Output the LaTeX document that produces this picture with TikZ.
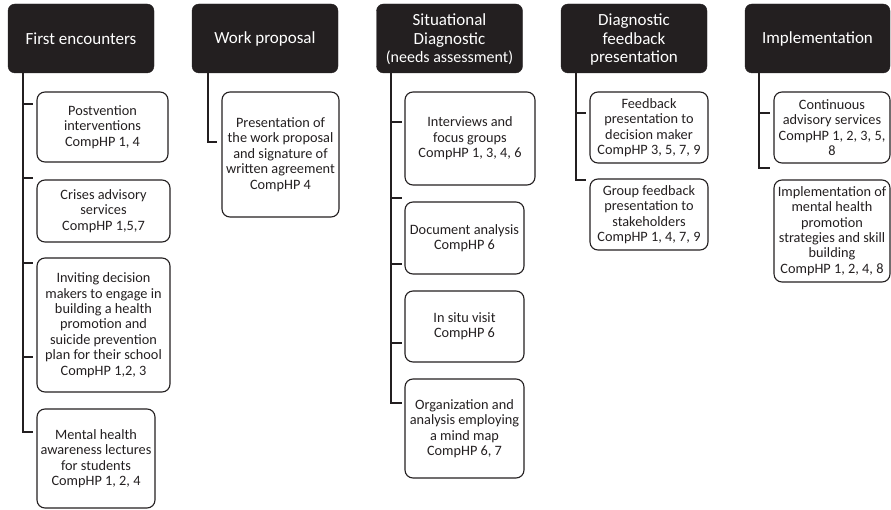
\documentclass[tikz,border=0pt]{standalone}
\usepackage{fontspec}
\setmainfont{Carlito}
\definecolor{ink}{HTML}{231F20}
\tikzset{
  x=1pt, y=-1pt,
  header/.style={fill=ink, draw=ink, rounded corners=7pt, text=white,
    minimum width=146pt, minimum height=69pt, inner sep=2pt, align=center,
    font=\fontsize{17}{18.5}\selectfont},
  tallhead/.style={header, text depth=2pt},
  leaf/.style={draw=ink, line width=1.1pt, rounded corners=8pt, text=ink,
    inner sep=2pt, align=center, font=\fontsize{14.3}{15.4}\selectfont},
  trunk/.style={draw=ink, line width=1.3pt},
}
\newcommand{\subline}[1]{{\fontsize{16}{18.5}\selectfont #1}}
\begin{document}
\begin{tikzpicture}
\useasboundingbox (0,0) rectangle (891,510);

% stage headers
\node[header] (h1) at (81,38.5) {First encounters};
\node[header] (h2) at (265,38.5) {Work proposal};
\node[header] (h3) at (449.5,38.5) {\rule{0pt}{14pt}Situational\\Diagnostic\\\subline{(needs assessment)}};
\node[header] (h4) at (634,38.5) {\rule{0pt}{14pt}Diagnostic\\feedback\\presentation};
\node[header, minimum width=145pt] (h5) at (817.5,38.5) {Implementation};

% first encounters
\node[leaf, minimum width=131pt, minimum height=70pt] (e1) at (102.5,127) {Postvention\\interventions\\CompHP 1, 4};
\node[leaf, minimum width=133pt, minimum height=62pt] (e2) at (103.5,211) {Crises advisory\\services\\CompHP 1,5,7};
\node[leaf, minimum width=133pt, minimum height=134pt] (e3) at (103.5,325) {Inviting decision\\makers to engage in\\building a health\\promotion and\\suicide prevention\\plan for their school\\CompHP 1,2, 3};
\node[leaf, minimum width=118pt, minimum height=99pt] (e4) at (96,458.5) {Mental health\\awareness lectures\\for students\\CompHP 1, 2, 4};

% work proposal
\node[leaf, minimum width=117pt, minimum height=125pt] (w1) at (280.5,154.5) {Presentation of\\the work proposal\\and signature of\\written agreement\\CompHP 4};

% situational diagnostic
\node[leaf, minimum width=130pt, minimum height=93pt] (s1) at (470,138.5) {Interviews and\\focus groups\\CompHP 1, 3, 4, 6};
\node[leaf, minimum width=119pt, minimum height=72pt] (s2) at (464.5,238) {Document analysis\\CompHP 6};
\node[leaf, minimum width=119pt, minimum height=71pt] (s3) at (464.5,326.5) {In situ visit\\CompHP 6};
\node[leaf, minimum width=119pt, minimum height=99pt] (s4) at (464.5,428.5) {Organization and\\analysis employing\\a mind map\\CompHP 6, 7};

% diagnostic feedback presentation
\node[leaf, minimum width=118pt, minimum height=71pt] (d1) at (649,127.5) {Feedback\\presentation to\\decision maker\\CompHP 3, 5, 7, 9};
\node[leaf, minimum width=118pt, minimum height=71pt] (d2) at (649,214.5) {Group feedback\\presentation to\\stakeholders\\CompHP 1, 4, 7, 9};

% implementation
\node[leaf, minimum width=116pt, minimum height=71pt] (i1) at (832,127.5) {Continuous\\advisory services\\CompHP 1, 2, 3, 5,\\8};
\node[leaf, minimum width=116pt, minimum height=102pt] (i2) at (832,231) {Implementation of\\mental health\\promotion\\strategies and skill\\building\\CompHP 1, 2, 4, 8};

% trunk columns and tick ends
\coordinate (c1) at (23,0);
\coordinate (c2) at (208,0);
\coordinate (c3) at (391,0);
\coordinate (c4) at (576,0);
\coordinate (c5) at (759,0);

\coordinate (k11) at (33,104);
\coordinate (k12) at (33,178);
\coordinate (k13) at (33,263);
\coordinate (k14) at (33,357);
\coordinate (k15) at (33,432);
\coordinate (k21) at (217,142);
\coordinate (k31) at (402,122);
\coordinate (k32) at (402,198);
\coordinate (k33) at (402,264);
\coordinate (k34) at (402,343);
\coordinate (k35) at (402,403);
\coordinate (k41) at (586,113);
\coordinate (k42) at (586,180);
\coordinate (k51) at (770,113);
\coordinate (k52) at (770,168);

\draw[trunk] (h1.south -| c1) |- (k15);
\foreach \k in {k11,k12,k13,k14} \draw[trunk] (\k -| c1) -- (\k);
\draw[trunk] (h2.south -| c2) |- (k21);
\draw[trunk] (h3.south -| c3) |- (k35);
\foreach \k in {k31,k32,k33,k34} \draw[trunk] (\k -| c3) -- (\k);
\draw[trunk] (h4.south -| c4) |- (k42);
\draw[trunk] (k41 -| c4) -- (k41);
\draw[trunk] (h5.south -| c5) |- (k52);
\draw[trunk] (k51 -| c5) -- (k51);
\end{tikzpicture}
\end{document}
